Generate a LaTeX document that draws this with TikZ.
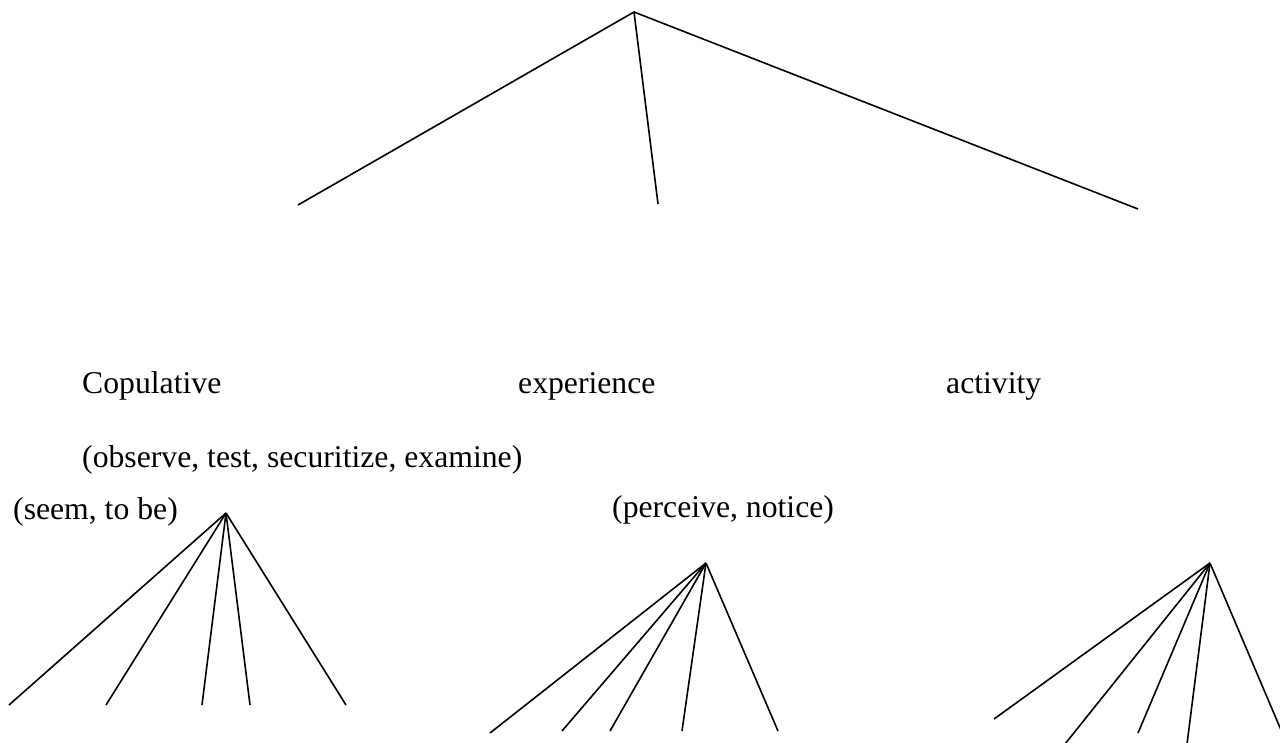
\documentclass[tikz,border=0pt]{standalone}
\usepackage{fontspec}
\setmainfont{Liberation Serif}
\begin{document}
\begin{tikzpicture}[x=1pt,y=-1pt,
  branch/.style={line width=1.6pt,line cap=butt},
  lbl/.style={anchor=base west,inner sep=0pt,font=\fontsize{31.7}{38}\selectfont}]
\useasboundingbox (0,0) rectangle (1280,742);
\clip (0,0) rectangle (1280,742);
% top tree
\coordinate (top) at (634,12);
\coordinate (t1) at (298,205);
\coordinate (t2) at (658,204);
\coordinate (t3) at (1138,209);
\draw[branch] (t1) -- (top) -- (t3);
\draw[branch] (top) -- (t2);
% labels
\node[lbl] (cop) at (82,393) {Copulative};
\node[lbl] (exp) at (518,393) {experience};
\node[lbl] (act) at (946,393) {activity};
\node[lbl] (obs) at (82,467) {(observe, test, securitize, examine)};
\node[lbl] (seem) at (13,519) {(seem, to be)};
\node[lbl] (perc) at (612,517) {(perceive, notice)};
% fan 1
\coordinate (a1) at (226,513);
\coordinate (a1e1) at (9,705);
\coordinate (a1e2) at (106,705);
\coordinate (a1e3) at (202,705);
\coordinate (a1e4) at (250,705);
\coordinate (a1e5) at (346,705);
\foreach \e in {1,...,5} \draw[branch] (a1) -- (a1e\e);
% fan 2
\coordinate (a2) at (706,563);
\coordinate (a2e1) at (490,733);
\coordinate (a2e2) at (562,731);
\coordinate (a2e3) at (610,731);
\coordinate (a2e4) at (682,731);
\coordinate (a2e5) at (778,731);
\foreach \e in {1,...,5} \draw[branch] (a2) -- (a2e\e);
% fan 3
\coordinate (a3) at (1210,563);
\coordinate (a3e1) at (994,719);
\coordinate (a3e2) at (1065,744);
\coordinate (a3e3) at (1138,733);
\coordinate (a3e4) at (1187,744);
\coordinate (a3e5) at (1281,730);
\foreach \e in {1,...,5} \draw[branch] (a3) -- (a3e\e);
\end{tikzpicture}
\end{document}
